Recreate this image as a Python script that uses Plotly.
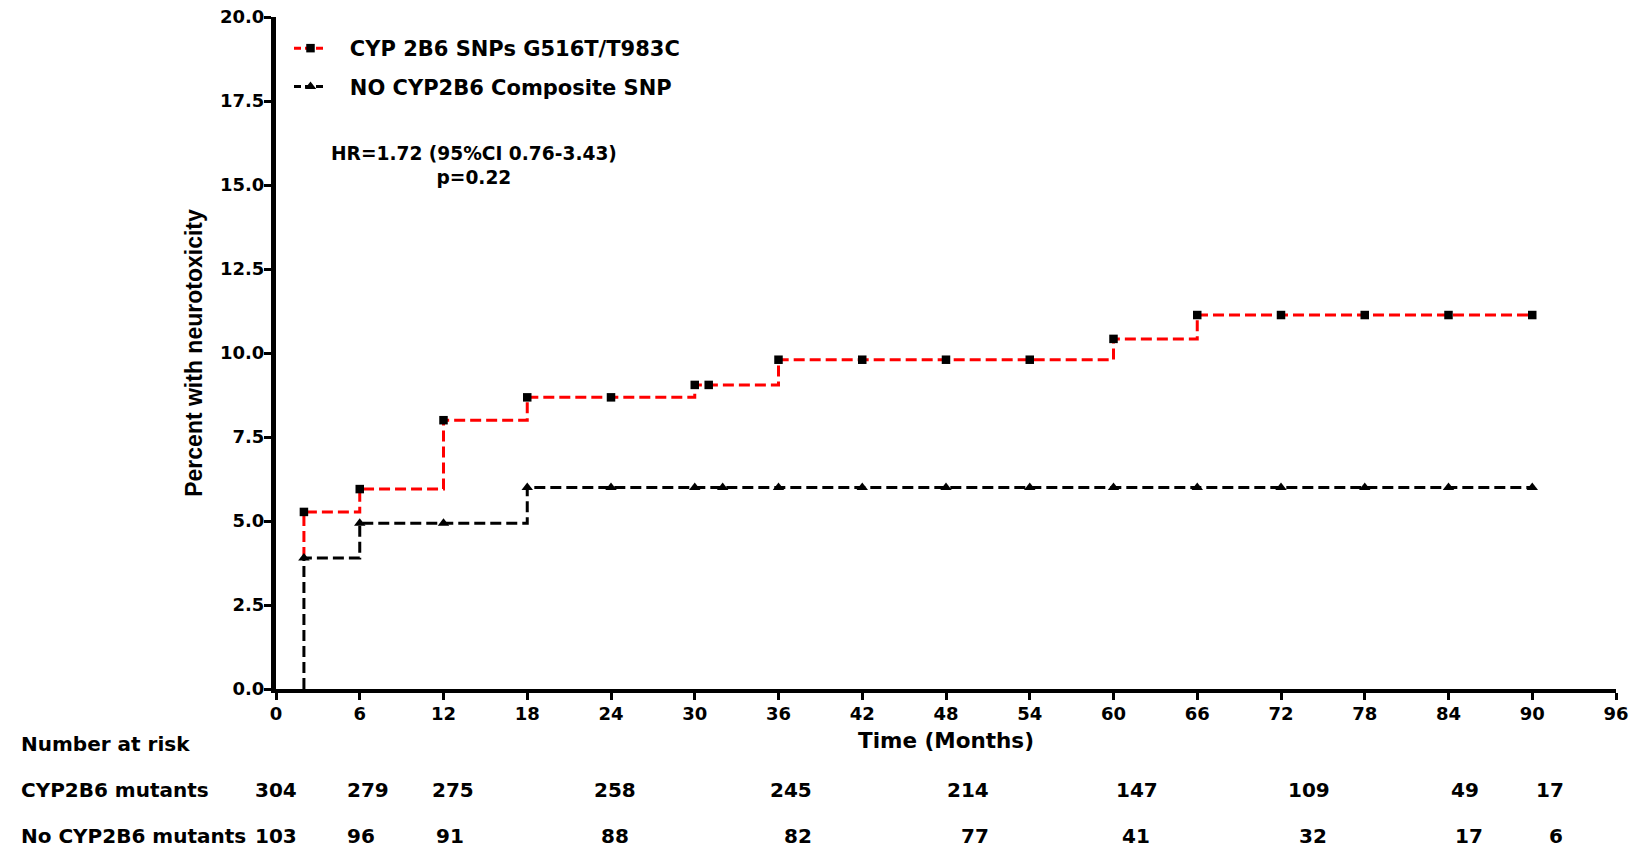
import plotly.graph_objects as go

# ---- data ----
red_x = [2, 2, 6, 12, 18, 30, 36, 60, 66, 90]
red_y = [3.9, 5.27, 5.95, 8.0, 8.68, 9.05, 9.8, 10.42, 11.13, 11.13]
red_mx = [2, 6, 12, 18, 24, 30, 31, 36, 42, 48, 54, 60, 66, 72, 78, 84, 90]
red_my = [5.27, 5.95, 8.0, 8.68, 8.68, 9.05, 9.05, 9.8, 9.8, 9.8, 9.8, 10.42, 11.13, 11.13, 11.13, 11.13, 11.13]

blk_x = [2, 2, 6, 18, 90]
blk_y = [0, 3.9, 4.93, 6.0, 6.0]
blk_mx = [2, 6, 12, 18, 24, 30, 32, 36, 42, 48, 54, 60, 66, 72, 78, 84, 90]
blk_my = [3.9, 4.93, 4.93, 6.0, 6.0, 6.0, 6.0, 6.0, 6.0, 6.0, 6.0, 6.0, 6.0, 6.0, 6.0, 6.0, 6.0]

series_names = ["CYP 2B6 SNPs G516T/T983C", "NO CYP2B6 Composite SNP"]

risk_labels = ["CYP2B6 mutants", "No CYP2B6 mutants"]
risk_mut = [304, 279, 275, 258, 245, 214, 147, 109, 49, 17]
risk_nomut = [103, 96, 91, 88, 82, 77, 41, 32, 17, 6]
risk_pos_mut = [0, 6.6, 12.7, 24.3, 36.9, 49.6, 61.7, 74.0, 85.2, 91.3]
risk_pos_nomut = [0, 6.1, 12.5, 24.3, 37.4, 50.1, 61.6, 74.3, 85.5, 91.7]

x_ticks = list(range(0, 97, 6))
y_ticks = [0, 2.5, 5.0, 7.5, 10.0, 12.5, 15.0, 17.5, 20.0]

WIDE = "DejaVu Sans, Arial, sans-serif"
ARIAL = "Liberation Sans, Arial, sans-serif"

W, H = 1634, 850
L, R, T, B = 276, 18, 17, 161
pw, ph = W - L - R, H - T - B

def px2paper(px, py):
    return (px - L) / pw, (H - B - py) / ph

fig = go.Figure()

# red series (line + markers)
fig.add_trace(go.Scatter(x=red_x, y=red_y, mode="lines",
                         line=dict(color="#ff0000", width=3, dash="11px,5px", shape="hv"),
                         showlegend=False, hoverinfo="skip"))
fig.add_trace(go.Scatter(x=red_mx, y=red_my, mode="markers",
                         marker=dict(symbol="square", size=8.5, color="black"), showlegend=False))
# black series
fig.add_trace(go.Scatter(x=blk_x, y=blk_y, mode="lines",
                         line=dict(color="black", width=3, dash="11px,5px", shape="hv"),
                         showlegend=False, hoverinfo="skip"))
fig.add_trace(go.Scatter(x=blk_mx, y=blk_my, mode="markers",
                         marker=dict(symbol="triangle-up", size=10, color="black"), showlegend=False))

# legend entries
pad = "\u2002\u00a0"
fig.add_trace(go.Scatter(x=[None], y=[None], mode="lines+markers", name=pad + series_names[0],
                         legendgroup="a",
                         line=dict(color="#ff0000", width=3, dash="7px,4px"),
                         marker=dict(symbol="square", size=8.5, color="black")))
fig.add_trace(go.Scatter(x=[None], y=[None], mode="lines+markers", name=pad + series_names[1],
                         legendgroup="b",
                         line=dict(color="black", width=3, dash="7px,4px"),
                         marker=dict(symbol="triangle-up", size=10, color="black")))

ann = []
hx, hy = px2paper(474, 165)
ann.append(dict(text="HR=1.72 (95%CI 0.76-3.43)<br>p=0.22", x=hx, y=hy, xref="paper", yref="paper",
                xanchor="center", yanchor="middle", showarrow=False,
                font=dict(family=WIDE, size=18.6, color="black", weight="bold")))

lx, _ = px2paper(19, 0)
_, y0 = px2paper(0, 744)
_, y1 = px2paper(0, 790)
_, y2 = px2paper(0, 836)
rfont = dict(family=WIDE, size=20, color="black", weight="bold")
ann.append(dict(text="Number at risk", x=lx, y=y0, xref="paper", yref="paper", xanchor="left", yanchor="middle",
                showarrow=False, font=rfont))
for lab, yy in zip(risk_labels, [y1, y2]):
    ann.append(dict(text=lab, x=lx, y=yy, xref="paper", yref="paper", xanchor="left", yanchor="middle",
                    showarrow=False, font=rfont))
for vals, pos, yy in [(risk_mut, risk_pos_mut, y1), (risk_nomut, risk_pos_nomut, y2)]:
    for v, p in zip(vals, pos):
        ann.append(dict(text=str(v), x=p, y=yy, xref="x", yref="paper", xanchor="center", yanchor="middle",
                        showarrow=False, font=rfont))

legx, _ = px2paper(289, 0)
_, legy = px2paper(0, 28)

fig.update_layout(
    width=W, height=H,
    margin=dict(l=L, r=R, t=T, b=B, autoexpand=False),
    paper_bgcolor="white", plot_bgcolor="white",
    annotations=ann,
    legend=dict(x=legx, y=legy, xanchor="left", yanchor="top",
                font=dict(family=WIDE, size=21, color="black", weight="bold"),
                bgcolor="rgba(0,0,0,0)", itemwidth=33, tracegroupgap=8),
    xaxis=dict(range=[0, 96], tickvals=x_ticks, ticktext=[str(t) for t in x_ticks],
               showline=True, linecolor="black", linewidth=4, ticks="outside", ticklen=7, tickwidth=3,
               tickcolor="black", showgrid=False, zeroline=False, ticklabelstandoff=-2,
               tickfont=dict(family=WIDE, size=18, color="black", weight="bold"),
               title=dict(text="Time (Months)", standoff=11,
                          font=dict(family=WIDE, size=21.5, color="black", weight="bold"))),
    yaxis=dict(range=[0, 20], tickvals=y_ticks, ticktext=[f"{t:.1f}" for t in y_ticks],
               showline=True, linecolor="black", linewidth=5, ticks="outside", ticklen=7, tickwidth=3,
               tickcolor="black", showgrid=False, zeroline=False, ticklabelstandoff=-4,
               tickfont=dict(family=WIDE, size=18, color="black", weight="bold"),
               title=dict(text="Percent with neurotoxicity", standoff=12,
                          font=dict(family=ARIAL, size=23, color="black", weight="bold"))),
)

fig.write_html("out.html", config={"displayModeBar": False},
               post_script="document.body.style.margin='0px';document.body.style.padding='0px';")
